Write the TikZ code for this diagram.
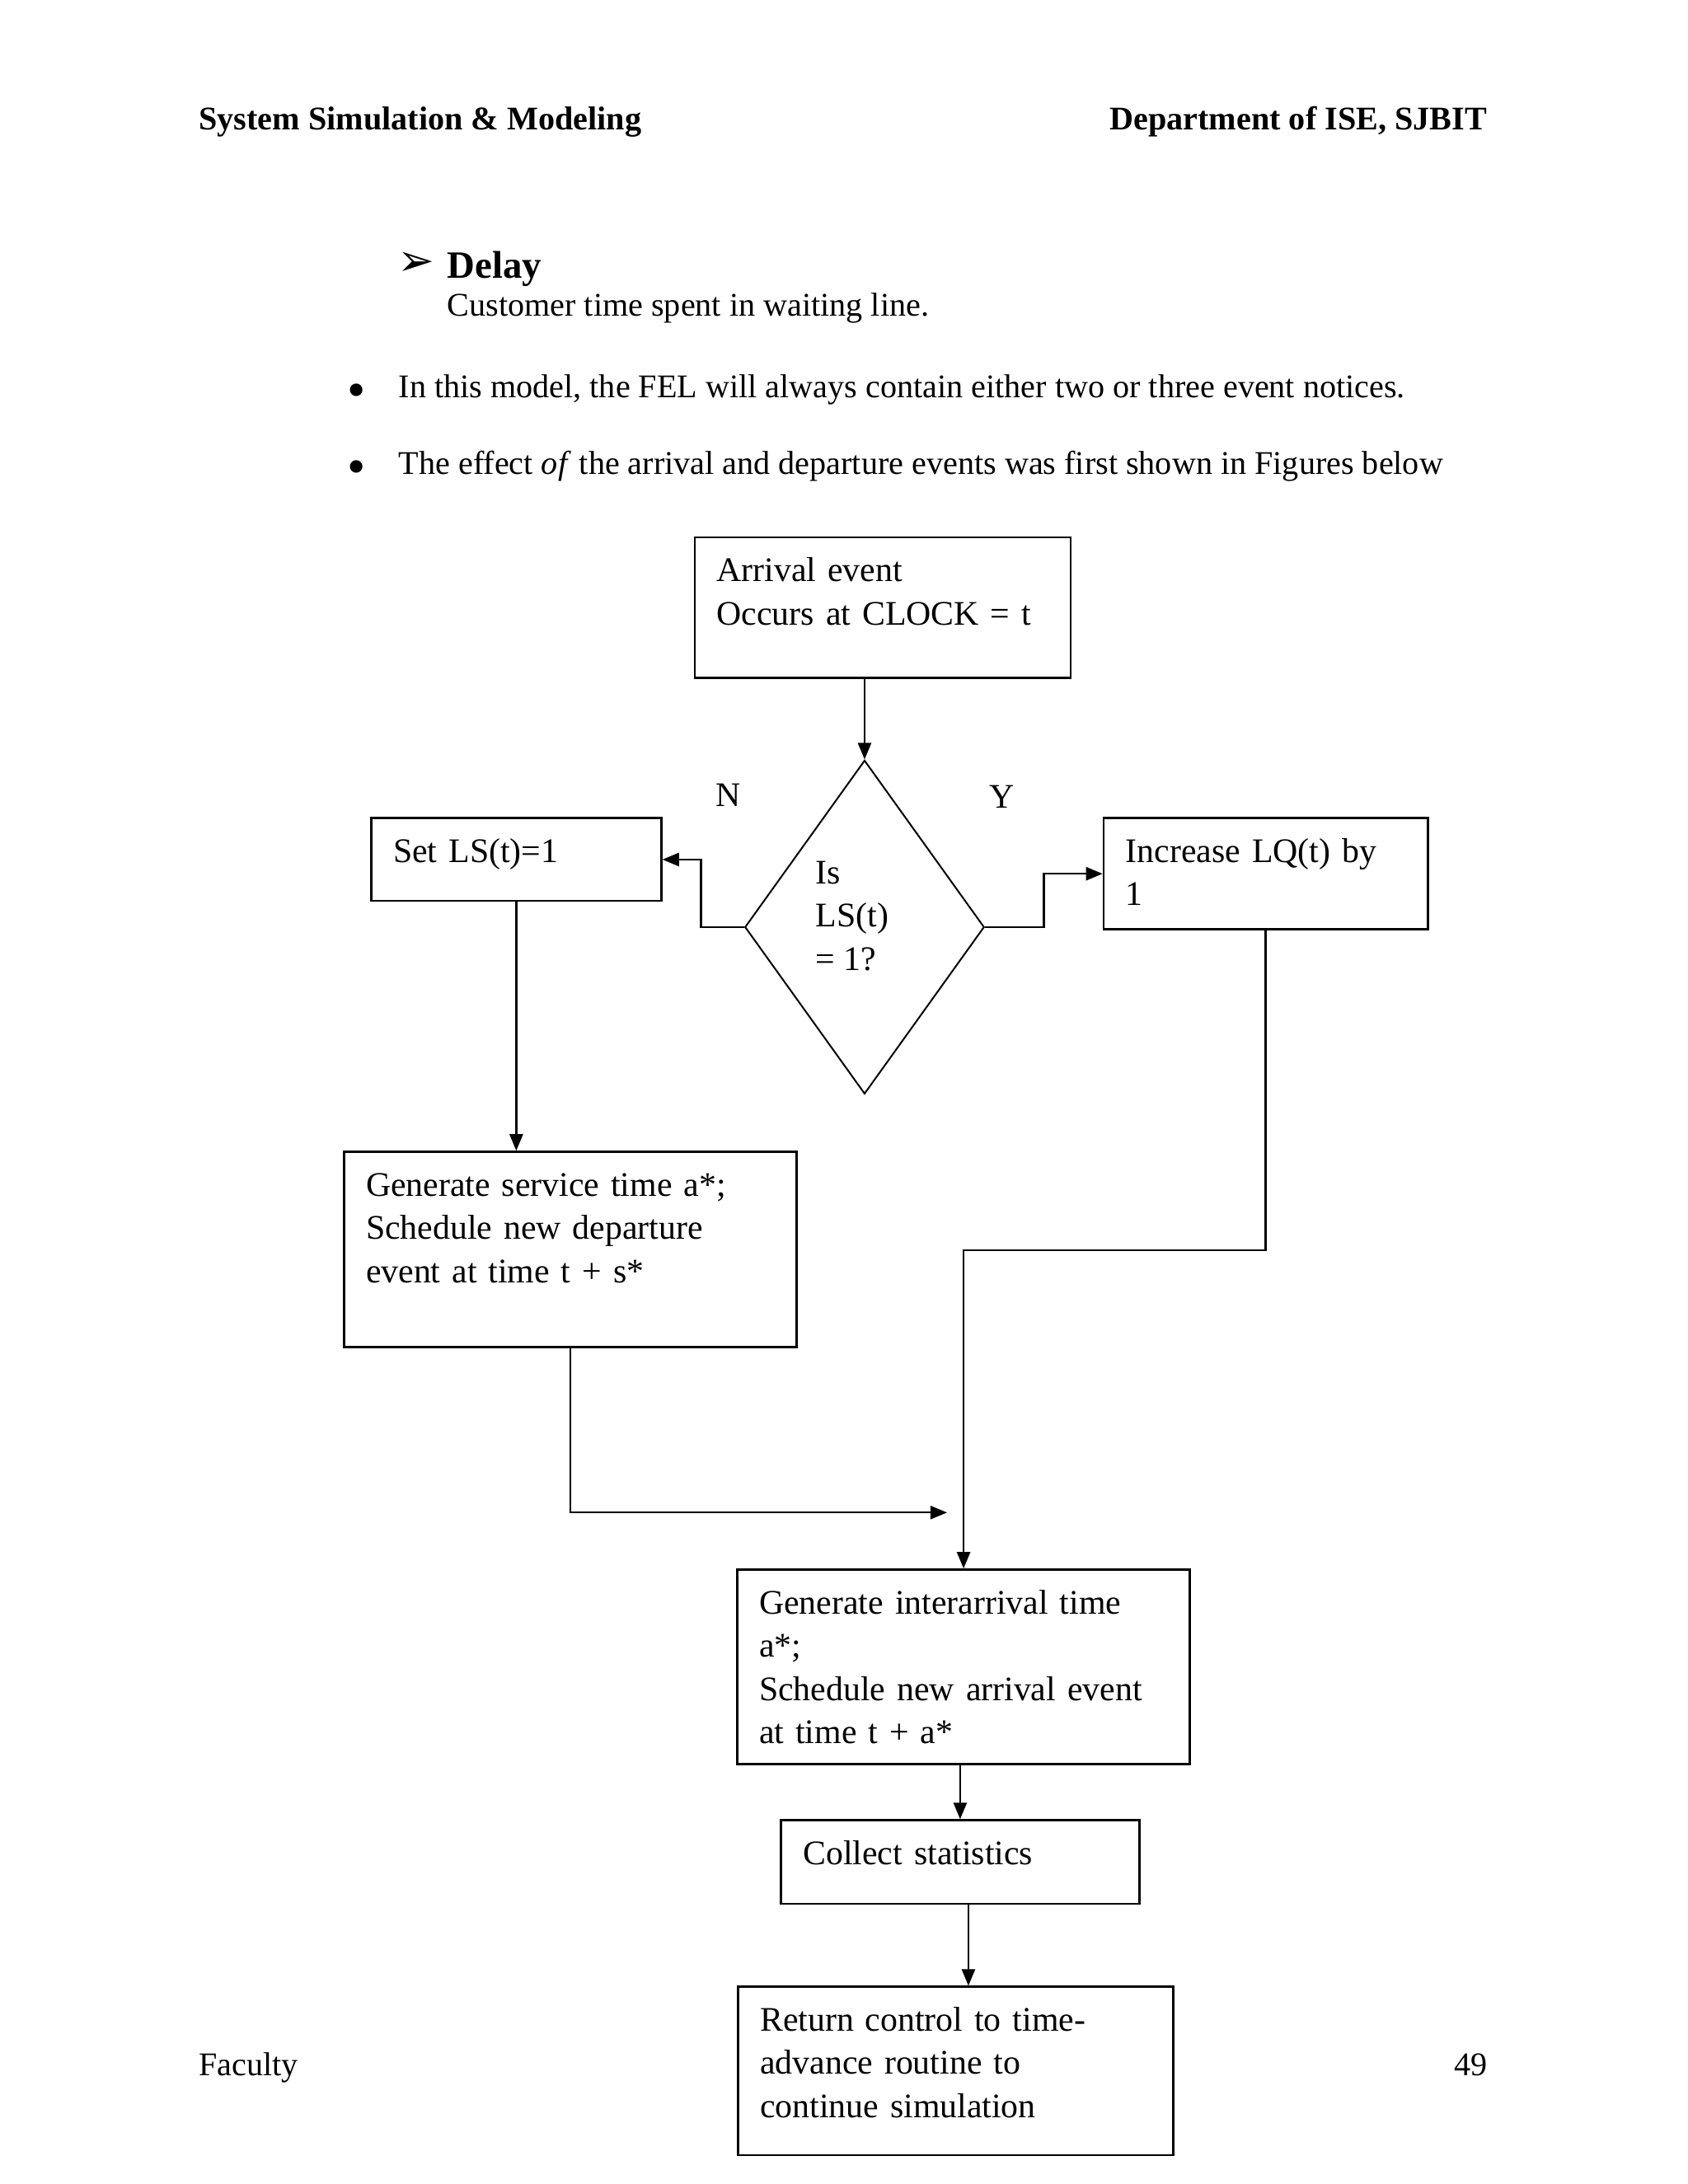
\documentclass[tikz,border=0pt]{standalone}
\usepackage{fontspec}
\setmainfont{Liberation Serif}
\newfontfamily\symfont{DejaVu Sans}
\usepackage{tikz}
\usetikzlibrary{arrows.meta}
\usetikzlibrary{shapes.geometric}

\begin{document}
\begin{tikzpicture}[
        x=1pt, y=-1pt,
        pagetext/.style={inner sep=0pt, font=\fontsize{12}{14}\selectfont},
        bulletmark/.style={inner sep=0pt, font=\fontsize{19}{20}\selectfont},
        stepbox/.style={
            draw, line width=0.8pt, anchor=north west, align=left,
            inner xsep=8pt, inner ysep=5pt, text height=11pt,
            font=\fontsize{12.5}{15.7}\selectfont
        },
        decision/.style={
            draw, diamond, line width=0.6pt, inner sep=-5pt,
            minimum width=86.8pt, minimum height=121pt,
            font=\fontsize{12.5}{15.7}\selectfont
        },
        flow/.style={line width=0.7pt, -{Triangle[length=6pt,width=4.8pt]}},
        ]
        \useasboundingbox (0,0) rectangle (612,792);

        % page text
        \node[pagetext, anchor=base west, font=\fontsize{12}{14}\selectfont\bfseries] (head) at (72,47) {System Simulation \& Modeling};
        \node[pagetext, anchor=base east, font=\fontsize{12}{14}\selectfont\bfseries] (dept) at (539.3,47) {Department of ISE, SJBIT};
        \node[pagetext, anchor=base west, font=\fontsize{16}{18}\symfont] (tip) at (144,100) {➢};
        \node[pagetext, anchor=base west, font=\fontsize{14}{16}\selectfont\bfseries] (delay) at (162,101) {Delay};
        \node[pagetext, anchor=base west] (delaytext) at (162,114.6) {Customer time spent in waiting line.};
        \node[bulletmark] (dot1) at (129.2,143.6) {•};
        \node[pagetext, anchor=base west] (line1) at (144.4,144.3) {In this model, the FEL will always contain either two or three event notices.};
        \node[bulletmark] (dot2) at (129.2,171.3) {•};
        \node[pagetext, anchor=base west] (line2) at (144.4,172) {The effect \textit{of} the arrival and departure events was first shown in Figures below};
        \node[pagetext, anchor=base west] (faculty) at (72,752.8) {Faculty};
        \node[pagetext, anchor=base east] (pageno) at (539.4,752.8) {49};

        % flowchart
        \node[stepbox, text width=120.3pt, text depth=30pt] (arrival) at (251.5,194.5) {Arrival event\\Occurs at CLOCK = t};
        \node[decision] (check) at (313.5,336.2) {\begin{tabular}{@{}l@{}}Is\\LS(t)\\= 1?\end{tabular}\rule[-27pt]{0pt}{0pt}\hspace*{9pt}};
        \node[pagetext, anchor=base west, font=\fontsize{12.5}{15}\selectfont] (no) at (259.4,292.3) {N};
        \node[pagetext, anchor=base west, font=\fontsize{12.5}{15}\selectfont] (yes) at (358.6,292.9) {Y};
        \node[stepbox, text width=89.2pt, text depth=9pt] (setls) at (134.2,296.3) {Set LS(t)=1};
        \node[stepbox, text width=101.5pt, text depth=19.3pt] (incr) at (399.8,296.3) {Increase LQ(t) by\\1};
        \node[stepbox, text width=148.2pt, text depth=49.7pt] (genserv) at (124.3,417.3) {Generate service time a*;\\Schedule new departure\\event at time t + s*};
        \node[stepbox, text width=148.2pt, text depth=49.6pt] (geninter) at (266.9,568.8) {Generate interarrival time\\a*;\\Schedule new arrival event\\at time t + a*};
        \node[stepbox, text width=113.9pt, text depth=9.3pt] (collect) at (282.8,659.7) {Collect statistics};
        \node[stepbox, text width=141.8pt, text depth=40pt] (ret) at (267.2,720.1) {Return control to time-\\advance routine to\\continue simulation};
        \coordinate (merge) at (343.4,548.5);

        \draw[flow] (check.north |- arrival.south) -- (check.north);
        \draw[flow] (check.west) -- ++(-15.6,0) |- (setls.east);
        \draw[flow] (check.east) -- ++(21.3,0) |- (incr.west);
        \draw[flow] (setls.south) -- (setls.south |- genserv.north);
        \draw[flow] (genserv.south) |- (merge);
        \draw[flow] (incr.south) -- ++(0,115.9) -| (geninter.north);
        \draw[flow] (geninter.south -| collect.north) -- (collect.north);
        \draw[flow] ([xshift=3pt]collect.south) -- ([xshift=3pt]collect.south |- ret.north);
    \end{tikzpicture}
\end{document}
